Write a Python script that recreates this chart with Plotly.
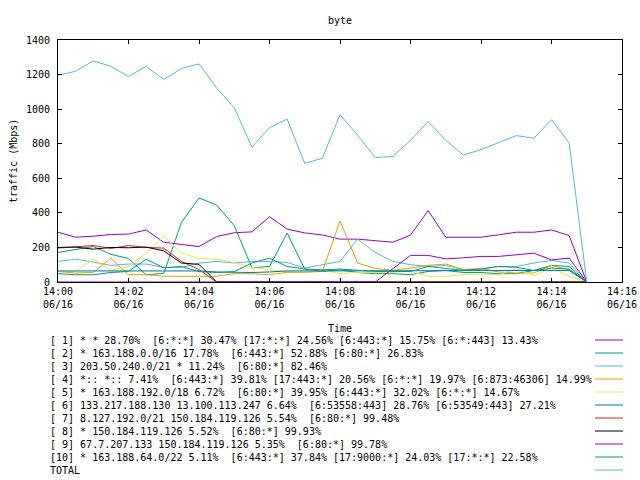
import plotly.graph_objects as go

times = ["14:00:00", "14:00:30", "14:01:00", "14:01:30", "14:02:00", "14:02:30",
         "14:03:00", "14:03:30", "14:04:00", "14:04:30", "14:05:00", "14:05:30",
         "14:06:00", "14:06:30", "14:07:00", "14:07:30", "14:08:00", "14:08:30",
         "14:09:00", "14:09:30", "14:10:00", "14:10:30", "14:11:00", "14:11:30",
         "14:12:00", "14:12:30", "14:13:00", "14:13:30", "14:14:00", "14:14:30",
         "14:15:00"]
day = "2024-06-16"
tick_times = ["14:00", "14:02", "14:04", "14:06", "14:08", "14:10", "14:12",
              "14:14", "14:16"]
tick_date = "06/16"

s1 = [288, 259, 265, 275, 277, 301, 230, 217, 205, 263, 285, 290, 378, 306, 284, 272,
      248, 248, 238, 230, 271, 413, 259, 259, 259, 273, 288, 288, 301, 269, 0]
s2 = [171, 190, 205, 160, 136, 42, 50, 344, 486, 445, 326, 82, 90, 283, 75, 61,
      70, 55, 48, 48, 42, 61, 67, 55, 55, 48, 48, 67, 96, 90, 0]
s3 = [119, 132, 115, 96, 104, 104, 84, 84, 109, 119, 110, 119, 119, 113, 81, 100,
      119, 248, 171, 119, 100, 90, 96, 71, 75, 90, 90, 110, 125, 110, 0]
s4 = [61, 52, 56, 138, 42, 42, 33, 33, 33, 33, 48, 48, 42, 56, 56, 61,
      353, 110, 78, 68, 81, 96, 104, 72, 78, 58, 52, 52, 96, 71, 0]
s5 = [61, 61, 132, 67, 90, 167, 265, 168, 135, 133, 113, 85, 71, 61, 67, 71,
      48, 56, 56, 56, 61, 33, 33, 42, 42, 42, 75, 36, 84, 33, 0]
s6 = [64, 64, 64, 64, 64, 64, 64, 64, 64, 58, 55, 55, 58, 64, 64, 64,
      64, 64, 64, 64, 64, 67, 64, 64, 67, 67, 67, 67, 67, 67, 0]
s7 = [196, 202, 211, 194, 211, 200, 196, 119, 72, 0, 0, 0, 0, 0, 0, 0,
      0, 0, 0, 0, 0, 0, 0, 0, 0, 0, 0, 0, 0, 0, 0]
s8 = [200, 202, 190, 200, 198, 202, 180, 110, 102, 0, 0, 0, 0, 0, 0, 0,
      0, 0, 0, 0, 0, 0, 0, 0, 0, 0, 0, 0, 0, 0, 0]
s9 = [0, 0, 0, 0, 0, 0, 0, 0, 0, 0, 0, 0, 0, 0, 0, 0,
      0, 0, 0, 77, 154, 154, 134, 140, 148, 148, 157, 167, 128, 138, 0]
s10 = [48, 42, 42, 55, 61, 132, 82, 90, 60, 55, 60, 110, 138, 90, 75, 70,
       75, 67, 61, 61, 61, 90, 80, 67, 75, 90, 85, 67, 80, 75, 0]
total = [1196, 1219, 1279, 1248, 1189, 1248, 1171, 1235, 1262, 1123, 1008, 780,
         893, 943, 686, 716, 968, 849, 720, 726, 820, 928, 820, 734, 766, 808,
         847, 832, 939, 805, 0]

labels = [
    "[ 1] * * 28.70%  [6:*:*] 30.47% [17:*:*] 24.56% [6:443:*] 15.75% [6:*:443] 13.43%",
    "[ 2] * 163.188.0.0/16 17.78%  [6:443:*] 52.88% [6:80:*] 26.83%",
    "[ 3] 203.50.240.0/21 * 11.24%  [6:80:*] 82.46%",
    "[ 4] *:: *:: 7.41%  [6:443:*] 39.81% [17:443:*] 20.56% [6:*:*] 19.97% [6:873:46306] 14.99%",
    "[ 5] * 163.188.192.0/18 6.72%  [6:80:*] 39.95% [6:443:*] 32.02% [6:*:*] 14.67%",
    "[ 6] 133.217.188.130 13.100.113.247 6.64%  [6:53558:443] 28.76% [6:53549:443] 27.21%",
    "[ 7] 8.127.192.0/21 150.184.119.126 5.54%  [6:80:*] 99.48%",
    "[ 8] * 150.184.119.126 5.52%  [6:80:*] 99.93%",
    "[ 9] 67.7.207.133 150.184.119.126 5.35%  [6:80:*] 99.78%",
    "[10] * 163.188.64.0/22 5.11%  [6:443:*] 37.84% [17:9000:*] 24.03% [17:*:*] 22.58%",
    "TOTAL",
]
series = [s1, s2, s3, s4, s5, s6, s7, s8, s9, s10, total]
colors = ["#9400d3", "#009e73", "#56b4e9", "#e69f00", "#f0e442", "#0072b2",
          "#e51e10", "#000000", "#9400d3", "#009e73", "#56b4e9"]

W, H = 640, 480
L, R, T, B = 58, 622, 40, 282
FONT = "DejaVu Sans Mono"

x = [f"{day} {t}" for t in times]
fig = go.Figure()
for vals, col, lab in zip(series, colors, labels):
    fig.add_trace(go.Scatter(x=x, y=vals, mode="lines", name=lab,
                             line=dict(color=col, width=1), showlegend=False))


def py(ypx):
    return 1 - (ypx - T) / (B - T)


def px(xpx):
    return (xpx - L) / (R - L)


annotations = [
    dict(text="byte", x=0.5, y=py(21), xref="paper", yref="paper",
         showarrow=False, xanchor="center", yanchor="middle"),
    dict(text="Time", x=0.5, y=py(328), xref="paper", yref="paper",
         showarrow=False, xanchor="center", yanchor="middle"),
    dict(text="traffic (Mbps)", x=px(13), y=0.5, xref="paper", yref="paper",
         showarrow=False, xanchor="center", yanchor="middle", textangle=-90),
]
shapes = []
row0, step = 340, 13.0
for i, (lab, col) in enumerate(zip(labels, colors)):
    yy = row0 + i * step
    annotations.append(dict(text=lab.replace(" ", "\u00a0"), x=px(48), y=py(yy),
                            xref="paper", yref="paper", showarrow=False,
                            xanchor="left", yanchor="middle"))
    shapes.append(dict(type="line", xref="paper", yref="paper",
                       x0=px(595), x1=px(623), y0=py(yy), y1=py(yy),
                       line=dict(color=col, width=1)))

fig.update_layout(
    width=W, height=H,
    margin=dict(l=L, r=W - R, t=T, b=H - B, pad=0),
    paper_bgcolor="white", plot_bgcolor="white",
    font=dict(family=FONT, size=10, color="black"),
    annotations=annotations, shapes=shapes,
    showlegend=False,
)
fig.update_xaxes(type="date", range=[f"{day} 14:00:00", f"{day} 14:16:00"],
                 tickmode="array",
                 tickvals=[f"{day} {t}:00" for t in tick_times],
                 ticktext=[f"{t}<br>{tick_date}" for t in tick_times],
                 ticks="inside", ticklen=4, tickcolor="black",
                 showline=True, linecolor="black", linewidth=1, mirror="allticks",
                 showgrid=False, zeroline=False, layer="above traces",
                 automargin=False)
fig.update_yaxes(range=[0, 1400], dtick=200, ticks="inside", ticklen=4,
                 tickcolor="black", showline=True, linecolor="black", linewidth=1,
                 mirror="allticks", showgrid=False, zeroline=False,
                 layer="above traces", ticklabelstandoff=5, automargin=False)

fig.write_html("out.html", config={"displayModeBar": False},
               post_script="document.body.style.margin='0';"
                           "document.body.style.overflow='hidden';")
